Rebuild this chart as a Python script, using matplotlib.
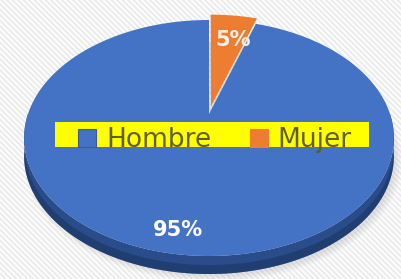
import numpy as np
import matplotlib
matplotlib.use("Agg")
import matplotlib.pyplot as plt
from matplotlib.patches import Polygon, Rectangle
from matplotlib.lines import Line2D

labels = ["Hombre", "Mujer"]
values = [95, 5]
pct_text = ["95%", "5%"]
colors = ["#4472c4", "#ed7d31"]
side_color = "#2a4c8a"

W, H = 401, 279
fig = plt.figure(figsize=(W / 100, H / 100), dpi=100)
ax = fig.add_axes([0, 0, 1, 1])
ax.set_xlim(0, W)
ax.set_ylim(H, 0)
ax.axis("off")

# faint diagonal stripes in the background
for c in np.arange(-H, W + H, 5.5):
    ax.plot([c, c + H], [0, H], color="#ececec", lw=1.6, zorder=0)

# perspective of the pie plane (Z=+1 far/top, Z=-1 near/bottom)
cx, A = 209, 181
ytop, ybot, yc = 20, 256, 114
r = (2 * yc - ytop - ybot) / (ytop - ybot)
p = ytop * (r + 1) - yc
thick = 18


def proj(X, Z, dy=0):
    den = r * Z + 1
    return cx + A * X / den, (p * Z + yc) / den + dy


# soft shadow
for k, a in enumerate([0.05, 0.05, 0.05, 0.06]):
    t = np.linspace(0, 2 * np.pi, 200)
    sx, sy = proj(np.cos(t) * (1.02 - 0.01 * k), np.sin(t) * (1.02 - 0.01 * k), thick + 4)
    ax.add_patch(Polygon(np.c_[sx + 4, sy], closed=True, fc="#808080", ec="none",
                         alpha=a, zorder=1))

# side of the pie (front half)
t = np.linspace(np.pi, 2 * np.pi, 200)
tx, ty = proj(np.cos(t), np.sin(t))
bx, by = proj(np.cos(t), np.sin(t), thick)
ax.add_patch(Polygon(np.r_[np.c_[tx, ty], np.c_[bx, by][::-1]], closed=True,
                     fc=side_color, ec="none", zorder=2))
bx2, by2 = proj(np.cos(t), np.sin(t), thick * 0.5)
ax.add_patch(Polygon(np.r_[np.c_[bx2, by2], np.c_[bx, by][::-1]], closed=True,
                     fc="#1c3663", ec="none", alpha=0.6, zorder=2))

# top faces of the slices; Mujer runs clockwise from 12 o'clock, Hombre follows
fracs = np.array(values) / sum(values)
explode = [0.0, 0.07]
start = 90.0
for i in [1, 0]:
    a0, a1 = start, start - fracs[i] * 360
    mid = np.radians((a0 + a1) / 2)
    ox, oz = explode[i] * np.cos(mid), explode[i] * np.sin(mid)
    ang = np.radians(np.linspace(a0, a1, 300))
    X = np.r_[0, np.cos(ang), 0] + ox
    Z = np.r_[0, np.sin(ang), 0] + oz
    px, py = proj(X, Z)
    ax.add_patch(Polygon(np.c_[px, py], closed=True, fc=colors[i], ec="none", zorder=3))
    start = a1

# data labels
ax.text(178, 230, pct_text[0], color="white", fontsize=15, fontweight="bold",
        ha="center", va="center", zorder=5)
ax.text(233, 40, pct_text[1], color="#f8f0e8", fontsize=15, fontweight="bold",
        ha="center", va="center", zorder=5)

# yellow legend strip
ax.add_patch(Rectangle((55, 122), 314, 25, fc="#ffff00", ec="none", zorder=4))
handles = [Line2D([], [], ls="none", marker="s", ms=13, mfc=c, mec="#3a5a9a", mew=0.8)
           for c in colors]
handles[1].set_markeredgecolor(colors[1])
leg = ax.legend(handles, labels, ncol=2, frameon=False, loc="center",
                bbox_to_anchor=(214 / W, 1 - 140 / H), fontsize=19,
                handlelength=0.8, handletextpad=0.3, columnspacing=1.4,
                borderpad=0, labelcolor="#5f5f18")
leg.set_zorder(6)

fig.savefig("out.png", dpi=100)
